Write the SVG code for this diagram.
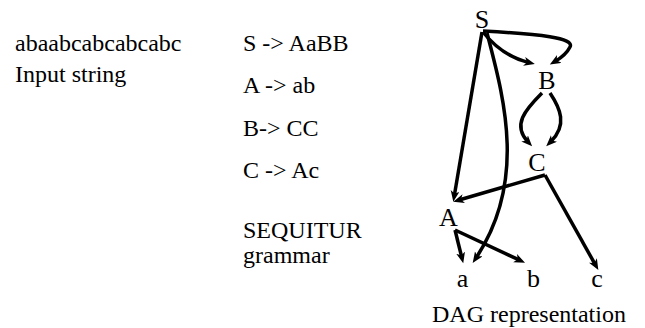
<svg xmlns="http://www.w3.org/2000/svg" width="645" height="328" viewBox="0 0 645 328">
<style>
.e{fill:none;stroke:#000;stroke-width:3.5;marker-end:url(#ah)}
</style>
<defs>
<marker id="ah" markerUnits="userSpaceOnUse" markerWidth="12" markerHeight="10" refX="5" refY="4.5" orient="auto">
<path d="M0,0 L11,4.5 L0,9 L3,4.5 Z" fill="#000"/>
</marker>
</defs>
<g id="labels">
<text font-family="Liberation Serif" font-size="24" x="15" y="51">abaabcabcabcabc</text>
<text font-family="Liberation Serif" font-size="24" x="15" y="82">Input string</text>
<text font-family="Liberation Serif" font-size="24" x="243" y="51">S -&gt; AaBB</text>
<text font-family="Liberation Serif" font-size="24" x="243" y="93">A -&gt; ab</text>
<text font-family="Liberation Serif" font-size="24" x="243" y="136">B-&gt; CC</text>
<text font-family="Liberation Serif" font-size="24" x="243" y="178">C -&gt; Ac</text>
<text font-family="Liberation Serif" font-size="24" x="243" y="238">SEQUITUR</text>
<text font-family="Liberation Serif" font-size="24" x="243" y="263">grammar</text>
<text font-family="Liberation Serif" font-size="24" x="432" y="322">DAG representation</text>
</g>
<g id="edges">
<path class="e" d="M483,32 Q502,56 529,62.6"/>
<path class="e" d="M483,31 C540,34 575,38 570,47 Q566,55 555,61.5"/>
<path class="e" d="M482,32 L454.3,195.8"/>
<path class="e" d="M487,33 C503,95 528,180 476,258"/>
<path class="e" d="M542,93 C525,110 512,125 528,142"/>
<path class="e" d="M550,93 C560,108 568,125 550.5,142"/>
<path class="e" d="M545,175 L459,200"/>
<path class="e" d="M545,175 L595.4,264.8"/>
<path class="e" d="M455,230 L461.8,257.5"/>
<path class="e" d="M455,230 L519.6,260.2"/>
</g>
<g id="node-S"><text font-family="Liberation Serif" font-size="26" text-anchor="middle" x="482" y="28">S</text></g>
<g id="node-B"><text font-family="Liberation Serif" font-size="26" text-anchor="middle" x="547" y="89">B</text></g>
<g id="node-C"><text font-family="Liberation Serif" font-size="26" text-anchor="middle" x="537" y="170.5">C</text></g>
<g id="node-A"><text font-family="Liberation Serif" font-size="26" text-anchor="middle" x="448.5" y="225.5">A</text></g>
<g id="node-a"><text font-family="Liberation Serif" font-size="26" text-anchor="middle" x="462.5" y="287">a</text></g>
<g id="node-b"><text font-family="Liberation Serif" font-size="26" text-anchor="middle" x="533.5" y="287">b</text></g>
<g id="node-c"><text font-family="Liberation Serif" font-size="26" text-anchor="middle" x="597" y="287">c</text></g>
</svg>
